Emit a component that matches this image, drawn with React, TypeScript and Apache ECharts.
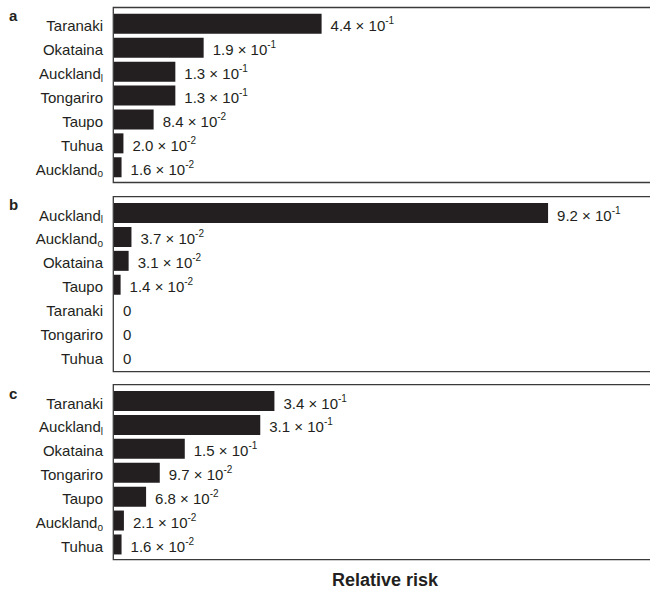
import React, { useEffect, useRef } from 'react';
import * as echarts from 'echarts';

// Relative risk per volcanic source, three scenarios (a, b, c)
const panelLetters = ['a', 'b', 'c'];

const categoriesA = ['Taranaki', 'Okataina', 'Auckland_l', 'Tongariro', 'Taupo', 'Tuhua', 'Auckland_o'];
const valuesA = [0.44, 0.19, 0.13, 0.13, 0.084, 0.02, 0.016];

const categoriesB = ['Auckland_l', 'Auckland_o', 'Okataina', 'Taupo', 'Taranaki', 'Tongariro', 'Tuhua'];
const valuesB = [0.92, 0.037, 0.031, 0.014, 0, 0, 0];

const categoriesC = ['Taranaki', 'Auckland_l', 'Okataina', 'Tongariro', 'Taupo', 'Auckland_o', 'Tuhua'];
const valuesC = [0.34, 0.31, 0.15, 0.097, 0.068, 0.021, 0.016];

const xAxisTitle = 'Relative risk';

const FONT = "'Liberation Sans', Arial, Helvetica, sans-serif";
const INK = '#231f20';

// value -> "m.m × 10^e" rich text
function sciLabel(v: number): string {
  if (v === 0) return '{m|0}';
  const exp = Math.floor(Math.log10(v) + 1e-9);
  const mant = (v / Math.pow(10, exp)).toFixed(1);
  return `{m|${mant} × 10}{sup|${exp}}`;
}

// "Auckland_l" -> Auckland with subscript l
function nameLabel(name: string): string {
  const i = name.indexOf('_');
  if (i < 0) return `{n|${name}}`;
  return `{n|${name.slice(0, i)}}{sub|${name.slice(i + 1)}}`;
}

const valueRich = {
  m: { fontSize: 15, lineHeight: 17, color: INK, fontFamily: FONT },
  sup: { fontSize: 10, lineHeight: 11, color: INK, fontFamily: FONT, padding: [0, 0, 10, 0] },
};

const nameRich = {
  n: { fontSize: 15, lineHeight: 17, color: INK, fontFamily: FONT },
  sub: { fontSize: 10, lineHeight: 11, color: INK, fontFamily: FONT, padding: [9, 0, 0, 0] },
};

export default function App() {
  const ref = useRef<HTMLDivElement>(null);

  useEffect(() => {
    document.body.style.margin = '0';
    if (!ref.current) return;
    const chart = echarts.init(ref.current, undefined, { renderer: 'svg' });

    const panels = [
      { cats: categoriesA, vals: valuesA },
      { cats: categoriesB, vals: valuesB },
      { cats: categoriesC, vals: valuesC },
    ];
    const frameTops = [7.5, 196.7, 384.7];
    const frameHeight = 175;
    const gridInset = 4.4;
    const gridHeight = 167.3;
    const plotLeft = 114;
    const plotWidth = 519;
    const letterY = [15, 204.5, 393.5];

    const grid: any[] = [];
    const xAxis: any[] = [];
    const yAxis: any[] = [];
    const series: any[] = [];
    const graphic: any[] = [];

    panels.forEach((p, i) => {
      grid.push({
        left: plotLeft,
        top: frameTops[i] + gridInset,
        width: plotWidth,
        height: gridHeight,
        containLabel: false,
      });
      xAxis.push({
        gridIndex: i,
        type: 'value',
        min: 0,
        max: 1.1,
        show: false,
      });
      yAxis.push({
        gridIndex: i,
        type: 'category',
        data: p.cats,
        inverse: true,
        axisLine: { show: false },
        axisTick: { show: false },
        splitLine: { show: false },
        axisLabel: {
          margin: 11,
          formatter: (v: string) => nameLabel(v),
          rich: nameRich,
          padding: [4, 0, 0, 0],
        },
      });
      series.push({
        type: 'bar',
        xAxisIndex: i,
        yAxisIndex: i,
        data: p.vals,
        barWidth: 20,
        itemStyle: { color: INK },
        label: {
          show: true,
          position: 'right',
          distance: 9,
          offset: [0, 2],
          formatter: (d: any) => sciLabel(d.value),
          rich: valueRich,
        },
      });
      graphic.push({
        type: 'rect',
        shape: { x: 113.3, y: frameTops[i], width: 560, height: frameHeight },
        style: { fill: 'none', stroke: '#3a3a3a', lineWidth: 1.3 },
        silent: true,
        z: 10,
      });
      graphic.push({
        type: 'text',
        x: 9,
        y: letterY[i],
        style: {
          text: panelLetters[i],
          font: `bold 15px ${FONT}`,
          fill: INK,
          textAlign: 'left',
          textVerticalAlign: 'middle',
        },
      });
    });

    graphic.push({
      type: 'text',
      x: 385,
      y: 580,
      style: {
        text: xAxisTitle,
        font: `bold 18px ${FONT}`,
        fill: INK,
        textAlign: 'center',
        textVerticalAlign: 'middle',
      },
    });

    chart.setOption({
      animation: false,
      backgroundColor: '#ffffff',
      textStyle: { fontFamily: FONT },
      grid,
      xAxis,
      yAxis,
      series,
      graphic,
    });

    return () => chart.dispose();
  }, []);

  return <div ref={ref} style={{ width: 650, height: 591 }} />;
}
